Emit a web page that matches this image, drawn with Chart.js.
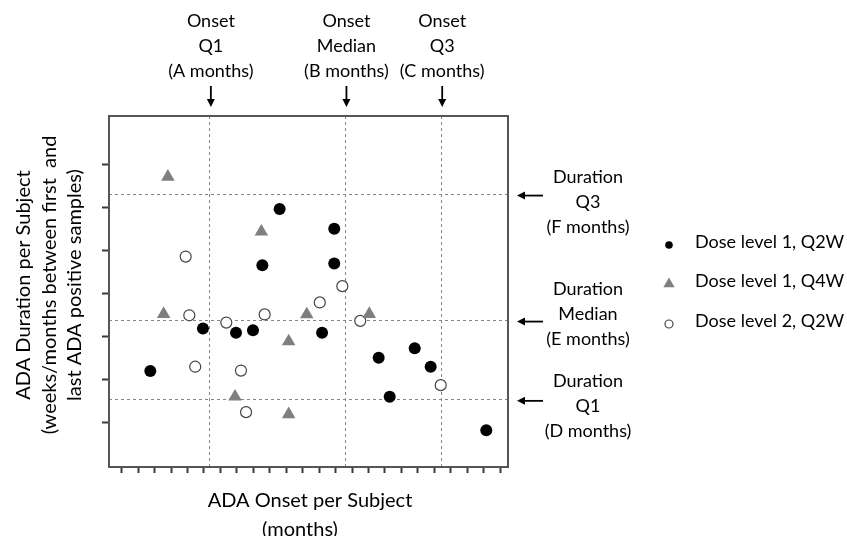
<!DOCTYPE html>
<html>
<head>
<meta charset="utf-8">
<script src="https://cdn.jsdelivr.net/npm/chart.js@4/dist/chart.umd.min.js"></script>
<style>
  html, body { margin: 0; padding: 0; background: #fff; }
  #wrap { width: 847px; height: 536px; position: relative; }
</style>
</head>
<body>
<div id="wrap"><canvas id="adaChart"></canvas></div>
<script>
// values (x = onset, ticks 1..24; y = duration, ticks 1..7)
const dose1q2wX = [2.74, 5.94, 7.95, 8.98, 10.60, 9.55, 13.92, 13.92, 13.18, 16.62, 17.29, 18.81, 19.78, 23.16];
const dose1q2wY = [2.19, 3.18, 3.08, 3.14, 5.97, 4.66, 5.51, 4.70, 3.08, 2.50, 1.59, 2.72, 2.29, 0.81];

const dose1q4wX = [3.81, 3.55, 9.49, 11.15, 12.25, 16.05, 7.89, 11.15];
const dose1q4wY = [6.72, 3.52, 5.44, 2.88, 3.51, 3.52, 1.59, 1.18];

const dose2q2wX = [4.89, 5.11, 5.47, 7.36, 9.69, 8.25, 8.56, 13.04, 14.41, 15.50, 20.39];
const dose2q2wY = [4.86, 3.49, 2.29, 3.32, 3.51, 2.20, 1.23, 3.79, 4.17, 3.36, 1.86];

const seriesNames = ['Dose level 1, Q2W', 'Dose level 1, Q4W', 'Dose level 2, Q2W'];

const onsetQuartiles = [6.33, 14.57, 20.39];
const durationQuartiles = [6.33, 3.39, 1.54];
const onsetLabels = [['Onset', 'Q1', '(A months)'], ['Onset', 'Median', '(B months)'], ['Onset', 'Q3', '(C months)']];
const durationLabels = [['Duration', 'Q3', '(F months)'], ['Duration', 'Median', '(E months)'], ['Duration', 'Q1', '(D months)']];

const xTickValues = [1, 2, 3, 4, 5, 6, 7, 8, 9, 10, 11, 12, 13, 14, 15, 16, 17, 18, 19, 20, 21, 22, 23, 24];
const yTickValues = [1, 2, 3, 4, 5, 6, 7];

const xTitle = ['ADA Onset per Subject', '(months)'];
const yTitle = ['ADA Duration per Subject', '(weeks/months between first  and', 'last ADA positive samples)'];

const toPoints = (xs, ys) => xs.map((x, i) => ({ x: x, y: ys[i] }));

const FONT = 'Lato, "Noto Sans", sans-serif';
const TEXT = '#000';

function drawArrow(ctx, x1, y1, x2, y2) {
    const ang = Math.atan2(y2 - y1, x2 - x1);
    const head = 8, half = 4;
    const bx = x2 - Math.cos(ang) * head, by = y2 - Math.sin(ang) * head;
    ctx.beginPath();
    ctx.moveTo(x1, y1);
    ctx.lineTo(bx, by);
    ctx.stroke();
    ctx.beginPath();
    ctx.moveTo(x2, y2);
    ctx.lineTo(bx - Math.sin(ang) * half, by + Math.cos(ang) * half);
    ctx.lineTo(bx + Math.sin(ang) * half, by - Math.cos(ang) * half);
    ctx.closePath();
    ctx.fill();
}

function drawMarker(ctx, style, x, y) {
    ctx.save();
    if (style === 'dot') {
        ctx.fillStyle = '#000';
        ctx.beginPath(); ctx.arc(x, y, 3.8, 0, Math.PI * 2); ctx.fill();
    } else if (style === 'tri') {
        const r = 6.5;
        ctx.fillStyle = '#7f7f7f';
        ctx.beginPath();
        ctx.moveTo(x, y - r);
        ctx.lineTo(x + r * 0.866, y + r * 0.5);
        ctx.lineTo(x - r * 0.866, y + r * 0.5);
        ctx.closePath(); ctx.fill();
    } else {
        ctx.fillStyle = '#fff'; ctx.strokeStyle = '#444'; ctx.lineWidth = 1.2;
        ctx.beginPath(); ctx.arc(x, y, 4, 0, Math.PI * 2); ctx.fill(); ctx.stroke();
    }
    ctx.restore();
}

// quartile lines, frame, labels, arrows and legend
const annotations = {
    id: 'annotations',
    beforeDatasetsDraw(chart) {
        const { ctx, chartArea: a, scales: { x, y } } = chart;
        ctx.save();
        ctx.strokeStyle = '#858585';
        ctx.lineWidth = 1;
        ctx.setLineDash([3, 3]);
        onsetQuartiles.forEach(v => {
            const px = Math.round(x.getPixelForValue(v)) + 0.5;
            ctx.beginPath(); ctx.moveTo(px, a.top); ctx.lineTo(px, a.bottom); ctx.stroke();
        });
        durationQuartiles.forEach(v => {
            const py = Math.round(y.getPixelForValue(v)) + 0.5;
            ctx.beginPath(); ctx.moveTo(a.left, py); ctx.lineTo(a.right, py); ctx.stroke();
        });
        ctx.restore();
    },
    afterDraw(chart) {
        const { ctx, chartArea: a, scales: { x, y } } = chart;
        ctx.save();

        // frame
        ctx.strokeStyle = '#555';
        ctx.lineWidth = 2;
        ctx.strokeRect(a.left, a.top, a.right - a.left, a.bottom - a.top);

        ctx.fillStyle = TEXT;
        ctx.strokeStyle = '#000';
        ctx.lineWidth = 1.8;
        ctx.textBaseline = 'middle';

        // onset labels above
        ctx.font = '18px ' + FONT;
        ctx.textAlign = 'center';
        onsetQuartiles.forEach((v, i) => {
            const px = x.getPixelForValue(v) + 1.5;
            onsetLabels[i].forEach((t, j) => ctx.fillText(t, px, 21 + j * 25));
            drawArrow(ctx, px, 86, px, 107);
        });

        // duration labels on the right
        const groupTop = [177, 289, 381];
        durationQuartiles.forEach((v, i) => {
            const py = y.getPixelForValue(v);
            durationLabels[i].forEach((t, j) => ctx.fillText(t, 588, groupTop[i] + j * 25));
            drawArrow(ctx, 543, py + 2, 517, py + 2);
        });

        // legend
        const styles = ['dot', 'tri', 'ring'];
        const rows = [242, 281, 321];
        ctx.textAlign = 'left';
        seriesNames.forEach((name, i) => {
            drawMarker(ctx, styles[i], 669, rows[i] + 3);
            ctx.fillStyle = TEXT;
            ctx.fillText(name, 695, rows[i]);
        });

        // axis titles
        ctx.font = '20px ' + FONT;
        ctx.textAlign = 'center';
        ctx.fillText(xTitle[0], 310, 501);
        ctx.fillText(xTitle[1], 300, 530);

        ctx.translate(0, 285);
        ctx.rotate(-Math.PI / 2);
        yTitle.forEach((t, j) => ctx.fillText(t, 0, 24 + j * 25.5));
        ctx.restore();
    }
};

new Chart(document.getElementById('adaChart'), {
    type: 'scatter',
    data: {
        datasets: [{
            label: seriesNames[0],
            data: toPoints(dose1q2wX, dose1q2wY),
            pointStyle: 'circle',
            pointRadius: 6,
            backgroundColor: '#000',
            borderColor: '#000',
            borderWidth: 0
        }, {
            label: seriesNames[1],
            data: toPoints(dose1q4wX, dose1q4wY),
            pointStyle: 'triangle',
            pointRadius: 7.8,
            backgroundColor: '#7f7f7f',
            borderColor: '#7f7f7f',
            borderWidth: 0
        }, {
            label: seriesNames[2],
            data: toPoints(dose2q2wX, dose2q2wY),
            pointStyle: 'circle',
            pointRadius: 5.5,
            backgroundColor: '#fff',
            borderColor: '#444',
            borderWidth: 1.2
        }]
    },
    options: {
        responsive: true,
        maintainAspectRatio: false,
        animation: false,
        devicePixelRatio: 1,
        layout: { padding: { left: 89, right: 339, top: 116, bottom: 49 } },
        plugins: {
            legend: { display: false },
            tooltip: { enabled: false }
        },
        scales: {
            x: {
                type: 'linear',
                min: 0.23,
                max: 24.48,
                afterBuildTicks: axis => { axis.ticks = xTickValues.map(v => ({ value: v })); },
                afterFit: scale => { scale.height = 20; },
                ticks: { display: false },
                border: { display: false },
                grid: { drawOnChartArea: false, drawTicks: true, tickLength: 6, tickWidth: 2, tickColor: '#3a3a3a' }
            },
            y: {
                type: 'linear',
                min: -0.05,
                max: 8.14,
                afterBuildTicks: axis => { axis.ticks = yTickValues.map(v => ({ value: v })); },
                afterFit: scale => { scale.width = 20; },
                ticks: { display: false },
                border: { display: false },
                grid: { drawOnChartArea: false, drawTicks: true, tickLength: 7, tickWidth: 2, tickColor: '#3a3a3a' }
            }
        }
    },
    plugins: [annotations]
});
</script>
</body>
</html>
